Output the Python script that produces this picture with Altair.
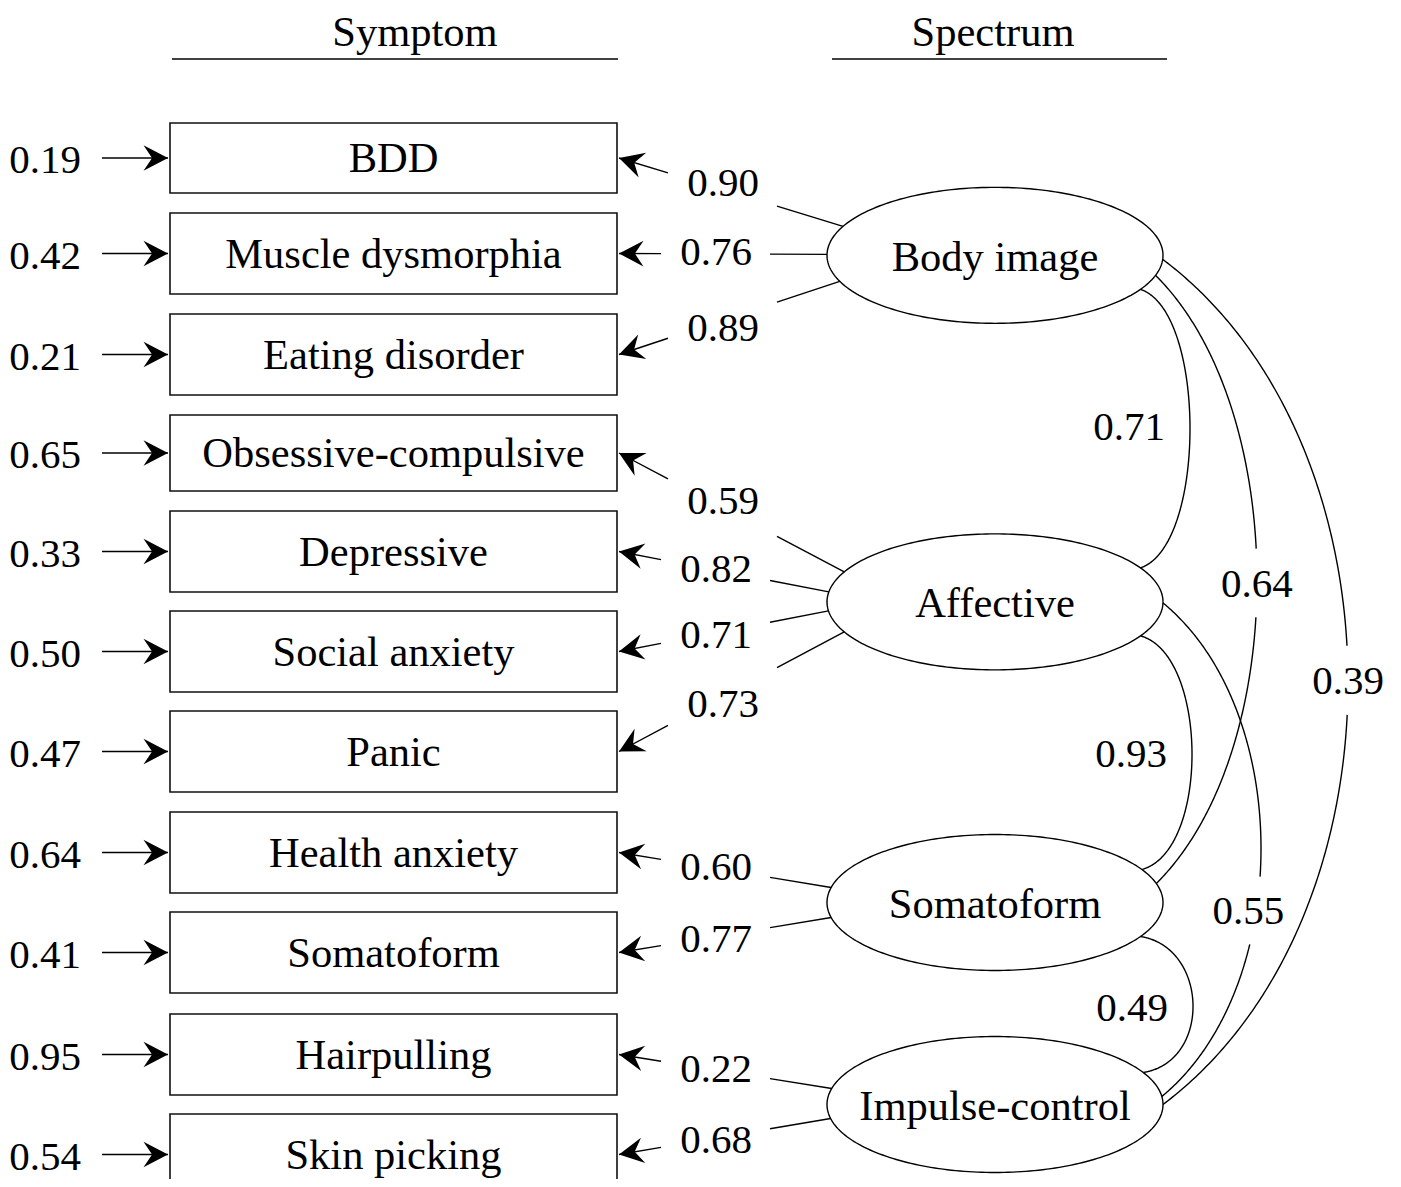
import math
import altair as alt
import pandas as pd

# ---------------- data ----------------
symptoms = ["BDD", "Muscle dysmorphia", "Eating disorder", "Obsessive-compulsive",
            "Depressive", "Social anxiety", "Panic", "Health anxiety",
            "Somatoform", "Hairpulling", "Skin picking"]
residuals = [0.19, 0.42, 0.21, 0.65, 0.33, 0.50, 0.47, 0.64, 0.41, 0.95, 0.54]
spectra = ["Body image", "Affective", "Somatoform", "Impulse-control"]
factor_of = [0, 0, 0, 1, 1, 1, 1, 2, 2, 3, 3]
loadings = [0.90, 0.76, 0.89, 0.59, 0.82, 0.71, 0.73, 0.60, 0.77, 0.22, 0.68]
corr_from = [0, 0, 0, 1, 1, 2]
corr_to = [1, 2, 3, 2, 3, 3]
correlations = [0.71, 0.64, 0.39, 0.93, 0.55, 0.49]
headers = ["Symptom", "Spectrum"]

# ---------------- layout (pixels of the reference picture) ----------------
PAGE = 8
W, H = 1385, 1171
FONT = "Liberation Serif"
FS_WORD = 42.5
FS_NUM = 41
LW = 1.4
row_y = [158, 253.5, 354.5, 453, 551.5, 651.5, 751.5, 852.5, 952.5, 1054.5, 1154.5]
box_h = [70, 81, 81, 76, 81, 81, 81, 81, 81, 81, 81]
BOX_L, BOX_R = 170, 617
ELL_CX, ELL_RX, ELL_RY = 995, 168, 68
attach_dy = [-29, -1, 26, -30, -10, 9, 30, -15, 15, -16, 14]
# dy at source, dy at target, outermost x, control fraction, label dy from middle, label dx, label on the curve
curve_shape = [(34, -34, 1190, 0.08, -2, 0, False),
               (20, -19, 1257, 0.22, 4, 0, True),
               (4, 0, 1348, 0.22, -1, 0, True),
               (34, -33, 1192, 0.08, 1, 0, False),
               (1, -8, 1261, 0.22, 61, -8, True),
               (34, -32, 1193, 0.08, 3, 0, False)]
RES_LABEL_X, RES_SHAFT_X = 45, 102
header_x = [415, 993]
header_rule = [(172, 618), (832, 1167)]
HEADER_BASE, HEADER_RULE_Y = 46, 59
HEAD_SIZE = 600
HEAD_LEN = math.sqrt(HEAD_SIZE)
ARROW = "M1,0L-1,-1.05L-0.3,0L-1,1.05Z"

rules, heads, texts, lines, boxes = [], [], [], [], []


def add_head(x0, y0, x1, y1):
    dx, dy = x1 - x0, y1 - y0
    d = math.hypot(dx, dy)
    ux, uy = dx / d, dy / d
    heads.append(dict(x=x1 - ux * HEAD_LEN / 2, y=y1 - uy * HEAD_LEN / 2,
                      ang=math.degrees(math.atan2(dy, dx)) % 360))


# ellipse centres: mean of their indicators' rows
ell_cy = []
for f in range(len(spectra)):
    mem = [row_y[i] for i in range(len(symptoms)) if factor_of[i] == f]
    ell_cy.append(sum(mem) / len(mem))


def ell_point(f, dy, side):
    dx = ELL_RX * math.sqrt(max(0.0, 1 - (dy / ELL_RY) ** 2))
    return ELL_CX + side * dx, ell_cy[f] + dy


# headers
for h, hx, (r0, r1) in zip(headers, header_x, header_rule):
    texts.append(dict(x=hx, y=HEADER_BASE, t=h, fs=FS_WORD))
    rules.append(dict(x=r0, y=HEADER_RULE_Y, x2=r1, y2=HEADER_RULE_Y))

# boxes, residual arrows
for i, (s, r) in enumerate(zip(symptoms, residuals)):
    yc = row_y[i]
    boxes.append(dict(x=BOX_L, x2=BOX_R, y=yc - box_h[i] / 2, y2=yc + box_h[i] / 2))
    texts.append(dict(x=(BOX_L + BOX_R) / 2, y=yc + 14, t=s, fs=FS_WORD))
    texts.append(dict(x=RES_LABEL_X, y=yc + 15, t=f"{r:.2f}", fs=FS_NUM))
    rules.append(dict(x=RES_SHAFT_X, y=yc, x2=BOX_L - 2, y2=yc))
    add_head(RES_SHAFT_X, yc, BOX_L - 2, yc)

# loadings
for i, lv in enumerate(loadings):
    f = factor_of[i]
    ex, ey = ell_point(f, attach_dy[i], -1)
    bx, by = BOX_R + 2, row_y[i]
    m = (by - ey) / (ex - bx)
    slanted = abs(m) > 0.25

    def yl(x):
        return ey + (ex - x) * m

    lx = 723 if slanted else 716
    sgn = 1 if m > 0 else -1
    ly = yl(lx) + (7.5 * sgn if slanted else 2 * sgn)
    texts.append(dict(x=lx, y=ly + 13.5, t=f"{lv:.2f}", fs=FS_NUM))
    rules.append(dict(x=ex, y=ey, x2=lx + 54, y2=yl(lx + 54)))
    rules.append(dict(x=lx - 55, y=yl(lx - 55), x2=bx, y2=by))
    add_head(lx - 55, yl(lx - 55), bx, by)

# ellipses
NE = 240
for f, name in enumerate(spectra):
    for k in range(NE + 1):
        a = 2 * math.pi * k / NE
        lines.append(dict(x=ELL_CX + ELL_RX * math.cos(a), y=ell_cy[f] + ELL_RY * math.sin(a),
                          id=f"e{f}", o=k))
    texts.append(dict(x=ELL_CX, y=ell_cy[f] + 15.5, t=name, fs=FS_WORD))

# correlations (cubic curves on the right)
NC = 300
for k, (a, b, cv) in enumerate(zip(corr_from, corr_to, correlations)):
    dya, dyb, xmax, vf, ldy, ldx, oncurve = curve_shape[k]
    p0 = ell_point(a, dya, 1)
    p3 = ell_point(b, dyb, 1)
    x0 = (p0[0] + p3[0]) / 2
    hh = (xmax - x0) / 0.75
    v = vf * (p3[1] - p0[1])
    p1 = (p0[0] + hh, p0[1] + v)
    p2 = (p3[0] + hh, p3[1] - v)
    pts = []
    for j in range(NC + 1):
        t = j / NC
        c0, c1, c2, c3 = (1 - t) ** 3, 3 * (1 - t) ** 2 * t, 3 * (1 - t) * t ** 2, t ** 3
        pts.append((c0 * p0[0] + c1 * p1[0] + c2 * p2[0] + c3 * p3[0],
                    c0 * p0[1] + c1 * p1[1] + c2 * p2[1] + c3 * p3[1]))
    ly = (p0[1] + p3[1]) / 2 + ldy
    if oncurve:
        lx = min(pts, key=lambda p: abs(p[1] - ly))[0] + ldx
        seg = "a"
        for j, (px, py) in enumerate(pts):
            if abs(py - ly) < 33:
                seg = "b"
                continue
            lines.append(dict(x=px, y=py, id=f"c{k}{seg}", o=j))
    else:
        lx = xmax - 61
        for j, (px, py) in enumerate(pts):
            lines.append(dict(x=px, y=py, id=f"c{k}", o=j))
    texts.append(dict(x=lx, y=ly + 13.5, t=f"{cv:.2f}", fs=FS_NUM))

# ---------------- chart ----------------
xs = alt.Scale(domain=[PAGE, PAGE + W], nice=False, zero=False)
ys = alt.Scale(domain=[PAGE, PAGE + H], nice=False, zero=False, reverse=True)


def X(c="x"):
    return alt.X(f"{c}:Q", scale=xs, axis=None)


def Y(c="y"):
    return alt.Y(f"{c}:Q", scale=ys, axis=None)


box_layer = alt.Chart(pd.DataFrame(boxes)).mark_rect(
    fill="white", stroke="#111111", strokeWidth=1.6
).encode(x=X(), x2="x2:Q", y=Y(), y2="y2:Q")

rule_layer = alt.Chart(pd.DataFrame(rules)).mark_rule(
    color="black", strokeWidth=LW
).encode(x=X(), x2="x2:Q", y=Y(), y2="y2:Q")

line_layer = alt.Chart(pd.DataFrame(lines)).mark_line(
    color="black", strokeWidth=LW
).encode(x=X(), y=Y(), detail="id:N", order="o:Q")

head_layer = alt.Chart(pd.DataFrame(heads)).mark_point(
    shape=ARROW, size=HEAD_SIZE, filled=True, color="black", opacity=1
).encode(x=X(), y=Y(), angle=alt.Angle("ang:Q", scale=None))

text_layer = alt.Chart(pd.DataFrame(texts)).mark_text(
    font=FONT, baseline="alphabetic", align="center", color="black"
).encode(x=X(), y=Y(), text="t:N", size=alt.Size("fs:Q", scale=None))

chart = alt.layer(box_layer, rule_layer, line_layer, head_layer, text_layer).properties(
    width=W, height=H, padding=0, autosize=alt.AutoSizeParams(type="none"),
    background="white"
).configure_view(stroke=None)

chart.save("out.html", embed_options={"renderer": "svg", "actions": False})
